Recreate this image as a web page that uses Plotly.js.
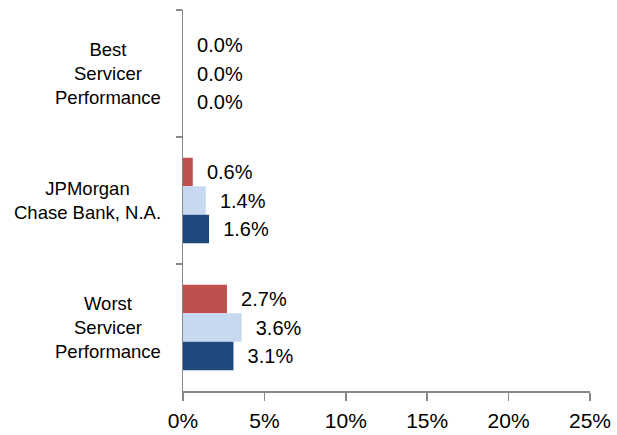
<!DOCTYPE html>
<html>
<head>
<meta charset="utf-8">
<script src="https://cdn.plot.ly/plotly-3.0.1.min.js"></script>
<style>html,body{margin:0;padding:0;background:#fff;}#chart{width:617px;height:435px;}</style>
</head>
<body>
<div id="chart"></div>
<script>
var categories = ["Best<br>Servicer<br>Performance", "JPMorgan<br>Chase Bank, N.A.", "Worst<br>Servicer<br>Performance"];
var seriesA = [0.0, 0.6, 2.7];
var seriesB = [0.0, 1.4, 3.6];
var seriesC = [0.0, 1.6, 3.1];
var xTicks = [0, 5, 10, 15, 20, 25];
var xTickLabels = ["0%", "5%", "10%", "15%", "20%", "25%"];

var colors = ["#C0504D", "#C6D9F1", "#1F497D"];
var FONT = "Liberation Sans, Arial, sans-serif";

function mk(vals, color) {
  return {
    type: "bar",
    orientation: "h",
    y: categories,
    x: vals,
    marker: {color: color},
    text: vals.map(function (v) { return "\u00A0\u00A0" + v.toFixed(1) + "%"; }),
    textposition: "outside",
    textfont: {family: FONT, size: 20, color: "#000"},
    cliponaxis: false,
    hoverinfo: "none"
  };
}

var data = [mk(seriesA, colors[0]), mk(seriesB, colors[1]), mk(seriesC, colors[2])];

var annotations = categories.map(function (c) {
  return {
    xref: "paper", yref: "y",
    x: -20 / 407, y: c,
    xanchor: "right", yanchor: "middle",
    align: "center",
    text: c,
    showarrow: false,
    font: {family: FONT, size: 18.5, color: "#000"}
  };
});

var layout = {
  width: 617, height: 435,
  margin: {l: 183, r: 27, t: 10, b: 44, pad: 0},
  paper_bgcolor: "#fff",
  plot_bgcolor: "#fff",
  showlegend: false,
  barmode: "group",
  bargap: 0.327,
  bargroupgap: 0,
  font: {family: FONT, color: "#000"},
  xaxis: {
    range: [0, 25],
    tickvals: xTicks,
    ticktext: xTickLabels,
    showgrid: false,
    zeroline: false,
    showline: true,
    linecolor: "#888",
    linewidth: 1.5,
    ticks: "outside",
    ticklen: 8,
    tickwidth: 1.5,
    tickcolor: "#888",
    ticklabelstandoff: 2,
    tickfont: {family: FONT, size: 21, color: "#000"},
    fixedrange: true
  },
  yaxis: {
    autorange: "reversed",
    type: "category",
    showticklabels: false,
    showgrid: false,
    zeroline: false,
    showline: true,
    linecolor: "#888",
    linewidth: 1.5,
    ticks: "outside",
    tickson: "boundaries",
    ticklen: 6,
    tickwidth: 1.5,
    tickcolor: "#888",
    fixedrange: true
  },
  annotations: annotations
};

Plotly.newPlot("chart", data, layout, {displayModeBar: false, staticPlot: true});
</script>
</body>
</html>
